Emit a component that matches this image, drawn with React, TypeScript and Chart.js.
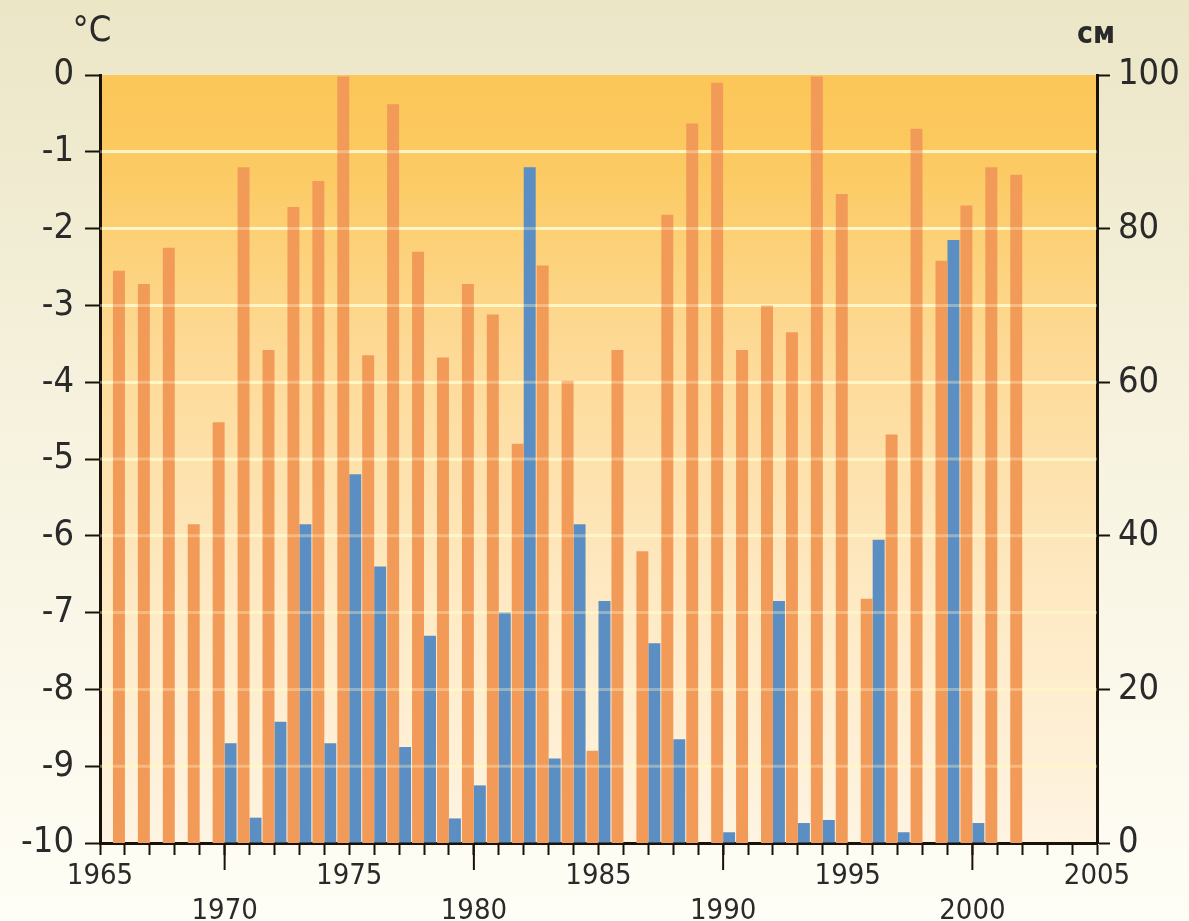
import React, { useEffect, useRef } from 'react';
import { Chart, registerables } from 'chart.js';

Chart.register(...registerables);

const years = [
  '1965', '1966', '1967', '1968', '1969', '1970', '1971', '1972', '1973', '1974',
  '1975', '1976', '1977', '1978', '1979', '1980', '1981', '1982', '1983', '1984',
  '1985', '1986', '1987', '1988', '1989', '1990', '1991', '1992', '1993', '1994',
  '1995', '1996', '1997', '1998', '1999', '2000', '2001', '2002', '2003', '2004', '2005',
];

// winter temperature, °C (left axis)
const temperatureC: (number | null)[] = [
  null, -2.55, -2.72, -2.25, -5.85, -4.52, -1.2, -3.58, -1.72, -1.38,
  0, -3.65, -0.38, -2.3, -3.68, -2.72, -3.12, -4.8, -2.48, -3.98,
  -8.8, -3.58, -6.2, -1.82, -0.63, -0.1, -3.58, -3.0, -3.35, 0,
  -1.55, -6.82, -4.68, -0.7, -2.42, -1.7, -1.2, -1.3, null, null, null,
];

// snow depth, cm (right axis)
const snowCm: (number | null)[] = [
  null, null, null, null, null, 13, 3.3, 15.8, 41.5, 13,
  48, 36, 12.5, 27, 3.2, 7.5, 30, 88, 11, 41.5,
  31.5, null, 26, 13.5, null, 1.4, null, 31.5, 2.6, 3,
  null, 39.5, 1.4, null, 78.5, 2.6, null, null, null, null, null,
];

const leftUnit = '°C';
const rightUnit = 'см';

const FONT = "'Liberation Sans Narrow', 'DejaVu Sans Condensed', 'Arial Narrow', sans-serif";
const INK = '#1a1208';
const LABEL = '#2a2a2a';

export default function App() {
  const ref = useRef<HTMLCanvasElement>(null);

  useEffect(() => {
    document.body.style.margin = '0';
    const canvas = ref.current;
    if (!canvas) return;

    const background = {
      id: 'background',
      beforeDraw(chart: any) {
        const { ctx, width, height, chartArea } = chart;
        ctx.save();
        const pg = ctx.createLinearGradient(0, 0, 0, height);
        pg.addColorStop(0, '#ebe6c6');
        pg.addColorStop(0.45, '#f6f2de');
        pg.addColorStop(1, '#fffef6');
        ctx.fillStyle = pg;
        ctx.fillRect(0, 0, width, height);
        const { left, right, top, bottom } = chartArea;
        const g = ctx.createLinearGradient(0, top, 0, bottom);
        g.addColorStop(0, '#fcc658');
        g.addColorStop(0.12, '#fcca62');
        g.addColorStop(0.35, '#fdd994');
        g.addColorStop(0.65, '#fee8c0');
        g.addColorStop(1, '#fef4e2');
        ctx.fillStyle = g;
        ctx.fillRect(left, top, right - left, bottom - top);
        ctx.restore();
      },
      afterDatasetsDraw(chart: any) {
        const { ctx, chartArea } = chart;
        const y = chart.scales.y;
        ctx.save();
        ctx.strokeStyle = 'rgba(255,246,205,0.35)';
        ctx.lineWidth = 3;
        y.ticks.forEach((t: any, i: number) => {
          if (t.value === 0 || t.value === -10) return;
          const py = y.getPixelForTick(i);
          ctx.beginPath();
          ctx.moveTo(chartArea.left, py);
          ctx.lineTo(chartArea.right, py);
          ctx.stroke();
        });
        ctx.restore();
      },
      afterDraw(chart: any) {
        const { ctx, chartArea } = chart;
        const x = chart.scales.x;
        ctx.save();
        ctx.strokeStyle = INK;
        ctx.lineWidth = 2;
        x.ticks.forEach((t: any, i: number) => {
          const yr = Number(years[i]);
          if (yr % 10 === 0) {
            const px = x.getPixelForTick(i);
            ctx.beginPath();
            ctx.moveTo(px, chartArea.bottom);
            ctx.lineTo(px, chartArea.bottom + 27);
            ctx.stroke();
          }
        });
        ctx.fillStyle = LABEL;
        ctx.textAlign = 'center';
        ctx.textBaseline = 'middle';
        ctx.font = `36px ${FONT}`;
        ctx.fillText(leftUnit, chartArea.left - 8, chartArea.top - 43);
        ctx.font = `bold 30px ${FONT}`;
        ctx.fillText(rightUnit, chartArea.right - 1, chartArea.top - 40);
        ctx.restore();
      },
    };

    const chart = new Chart(canvas, {
      type: 'bar',
      data: {
        labels: years,
        datasets: [
          {
            label: leftUnit,
            data: temperatureC.map((v) => (v === null ? null : [-10, v])) as any,
            backgroundColor: '#f29a58',
            borderWidth: 0,
            yAxisID: 'y',
            categoryPercentage: 0.96,
            barPercentage: 1,
          },
          {
            label: rightUnit,
            data: snowCm as any,
            backgroundColor: '#5b8ec2',
            borderWidth: 0,
            yAxisID: 'y2',
            categoryPercentage: 0.96,
            barPercentage: 1,
          },
        ],
      },
      options: {
        responsive: false,
        animation: false,
        devicePixelRatio: 1,
        layout: { padding: { top: 75, left: 0, right: 0, bottom: 0 } },
        plugins: {
          legend: { display: false },
          tooltip: { enabled: false },
        },
        scales: {
          x: {
            type: 'category',
            offset: false,
            z: 1,
            grid: {
              offset: false,
              drawOnChartArea: false,
              tickLength: 12,
              tickWidth: 2,
              tickColor: INK,
              color: INK,
            },
            border: { display: true, color: INK, width: 3 },
            ticks: {
              autoSkip: false,
              maxRotation: 0,
              minRotation: 0,
              padding: 4,
              color: LABEL,
              font: { family: FONT, size: 29 },
              callback: (_v: any, i: number) => {
                const yr = Number(years[i]);
                if (yr % 10 === 0) return ['', years[i]];
                if (yr % 5 === 0) return years[i];
                return '';
              },
            },
            afterFit: (s: any) => {
              s.height = 78;
            },
          },
          y: {
            position: 'left',
            min: -10,
            max: 0,
            grid: {
              color: (c: any) =>
                c.tick && (c.tick.value === 0 || c.tick.value === -10)
                  ? 'rgba(0,0,0,0)'
                  : 'rgba(255,247,196,0.95)',
              lineWidth: 3,
              tickLength: 15,
              tickWidth: 2,
              tickColor: INK,
            },
            border: { display: true, color: INK, width: 3 },
            ticks: {
              stepSize: 1,
              padding: 11,
              color: LABEL,
              font: { family: FONT, size: 36 },
              callback: (v: any) => String(v),
            },
            afterFit: (s: any) => {
              s.width = 100;
            },
          },
          y2: {
            position: 'right',
            min: 0,
            max: 100,
            z: 1,
            grid: {
              drawOnChartArea: false,
              tickLength: 13,
              tickWidth: 2,
              tickColor: INK,
            },
            border: { display: true, color: INK, width: 3 },
            ticks: {
              stepSize: 20,
              padding: 8,
              color: LABEL,
              font: { family: FONT, size: 36 },
            },
            afterFit: (s: any) => {
              s.width = 92;
            },
          },
        },
      },
      plugins: [background],
    });

    return () => chart.destroy();
  }, []);

  return (
    <div style={{ width: 1189, height: 921, position: 'relative' }}>
      <canvas ref={ref} width={1189} height={921} style={{ display: 'block' }} />
    </div>
  );
}
